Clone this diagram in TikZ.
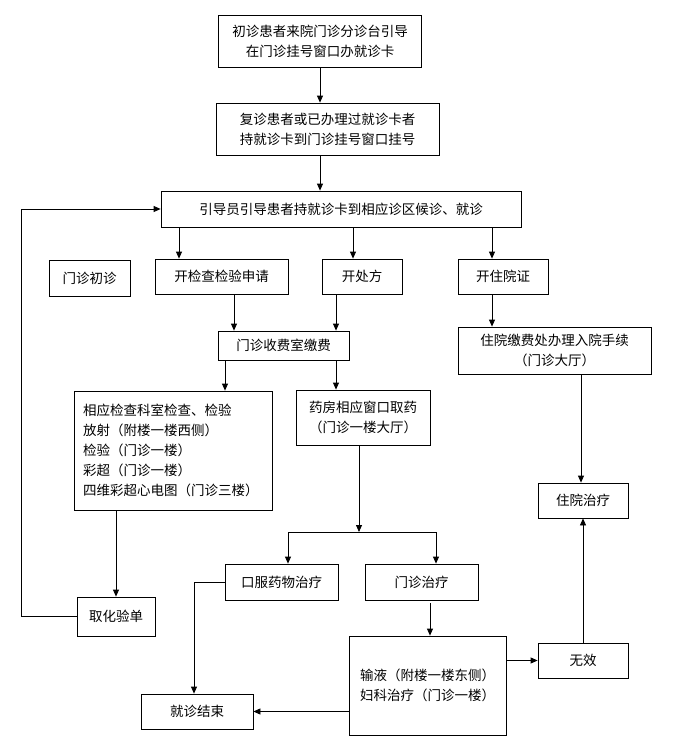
\documentclass[tikz,border=0pt]{standalone}
\usepackage{fontspec}
\setmainfont{Noto Sans CJK SC}
\usetikzlibrary{arrows.meta}
\begin{document}
\begin{tikzpicture}[x=1pt,y=-1pt,
  box/.style={draw=black,line width=0.8pt,rectangle,inner sep=0pt,align=center,
    font=\fontsize{13.5}{20}\selectfont},
  arr/.style={draw=black,line width=0.8pt,-{Triangle[length=7pt,width=6pt]}},
  ln/.style={draw=black,line width=0.8pt}]
\useasboundingbox (0,0) rectangle (691,752);
% columns
\coordinate (x21) at (21,0);
\coordinate (x179) at (179,0);
\coordinate (x353) at (353,0);
\coordinate (x492) at (492,0);
\coordinate (x234) at (234,0);
\coordinate (x336) at (336,0);
\coordinate (x225) at (225,0);
\coordinate (x581) at (581,0);
\coordinate (x359) at (359,0);
\coordinate (x194) at (194,0);
\coordinate (x430) at (430,0);
\coordinate (x116) at (116,0);
% nodes
\node[box,minimum width=203pt,minimum height=52pt] (b1) at (320,41) {初诊患者来院门诊分诊台引导\\在门诊挂号窗口办就诊卡};
\node[box,minimum width=223pt,minimum height=52pt] (b2) at (327.5,129) {复诊患者或已办理过就诊卡者\\持就诊卡到门诊挂号窗口挂号};
\node[box,minimum width=360pt,minimum height=36pt] (main) at (341,209) {引导员引导患者持就诊卡到相应诊区候诊、就诊};
\node[box,minimum width=81pt,minimum height=36pt] (chu) at (89.5,278) {门诊初诊};
\node[box,minimum width=133pt,minimum height=35pt] (jc) at (221.5,276.5) {开检查检验申请};
\node[box,minimum width=80pt,minimum height=35pt] (cf) at (362,276.5) {开处方};
\node[box,minimum width=90pt,minimum height=35pt] (zy) at (503,276.5) {开住院证};
\node[box,minimum width=131pt,minimum height=29pt] (sf) at (283.5,345.5) {门诊收费室缴费};
\node[box,minimum width=193pt,minimum height=47pt] (zyjf) at (554.5,350.5) {住院缴费处办理入院手续\\（门诊大厅）};
\node[box,align=left,text width=180pt,inner xsep=9pt,minimum height=119pt] (jy) at (173,450.5) {相应检查科室检查、检验\\放射（附楼一楼西侧）\\检验（门诊一楼）\\彩超（门诊一楼）\\四维彩超心电图（门诊三楼）};
\node[box,minimum width=134pt,minimum height=55pt] (yf) at (363,417.5) {药房相应窗口取药\\（门诊一楼大厅）};
\node[box,minimum width=90pt,minimum height=35pt] (zyzl) at (583,500.5) {住院治疗};
\node[box,minimum width=78pt,minimum height=39pt] (qhy) at (116,616.5) {取化验单};
\node[box,minimum width=113pt,minimum height=36pt] (kf) at (281.5,582) {口服药物治疗};
\node[box,minimum width=113pt,minimum height=36pt] (mzzl) at (421.5,582) {门诊治疗};
\node[box,align=left,text width=135pt,inner xsep=11pt,minimum height=99pt] (sy) at (427.5,685.5) {输液（附楼一楼东侧）\\妇科治疗（门诊一楼）};
\node[box,minimum width=90pt,minimum height=35pt] (wx) at (583,660.5) {无效};
\node[box,minimum width=112pt,minimum height=35pt] (js) at (197,711.5) {就诊结束};
% connectors
\draw[arr] (b1.south) -- (b1.south |- b2.north);
\draw[arr] (b1.south |- b2.south) -- (b1.south |- main.north);
\draw[arr] (main.south -| x179) -- (jc.north -| x179);
\draw[arr] (main.south -| x353) -- (cf.north -| x353);
\draw[arr] (main.south -| x492) -- (zy.north -| x492);
\draw[arr] (jc.south -| x234) -- (sf.north -| x234);
\draw[arr] (cf.south -| x336) -- (sf.north -| x336);
\draw[arr] (sf.south -| x225) -- (jy.north -| x225);
\draw[arr] (sf.south -| x336) -- (yf.north -| x336);
\draw[arr] (zy.south -| x492) -- (zyjf.north -| x492);
\draw[arr] (zyjf.south -| x581) -- (zyzl.north -| x581);
\draw[arr] (jy.south -| x116) -- (qhy.north);
\draw[arr] (qhy.west) -| (x21 |- main.west) -- (main.west);
\coordinate (br) at (359,532);
\coordinate (bl) at (288,532);
\coordinate (bt) at (436,532);
\draw[arr] (yf.south -| x359) -- (br);
\draw[ln] (bl) -- (bt);
\draw[arr] (bl) -- (kf.north -| bl);
\draw[arr] (bt) -- (mzzl.north -| bt);
\draw[arr] (kf.west) -| (x194 |- js.north);
\draw[arr] ([yshift=-3pt]mzzl.south -| x430) -- (sy.north -| x430);
\draw[arr] (sy.east |- wx.west) -- (wx.west);
\draw[arr] (sy.west |- js.east) -- (js.east);
\draw[arr] (wx.north) -- (zyzl.south);
\end{tikzpicture}
\end{document}
